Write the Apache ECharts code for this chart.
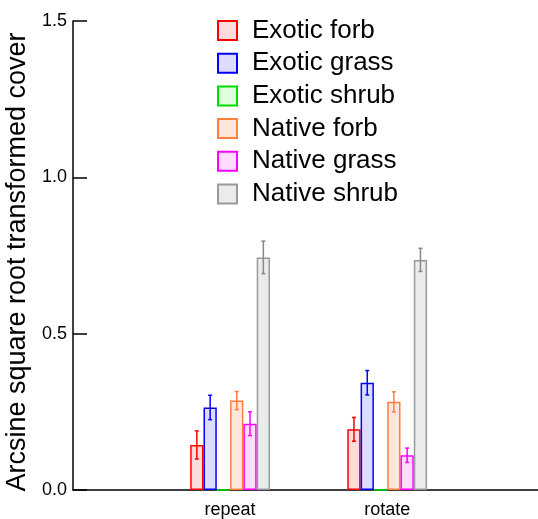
<!DOCTYPE html>
<html>
<head>
<meta charset="utf-8">
<script src="https://cdn.jsdelivr.net/npm/echarts@6/dist/echarts.min.js"></script>
<style>
  html, body { margin: 0; padding: 0; background: #fff; }
  #chart { width: 538px; height: 519px; }
</style>
</head>
<body>
<div id="chart"></div>
<script>
    // categories sit at x = 1 and x = 2 on the value axis
    var categories = ['repeat', 'rotate'];
    var groupNames = ['Exotic forb', 'Exotic grass', 'Exotic shrub', 'Native forb', 'Native grass', 'Native shrub'];
    var lineColors = ['#ff0000', '#0000ff', '#00dd00', '#ff8040', '#ff00ff', '#999999'];
    var fillColors = ['#ffdcdc', '#dcdcff', '#dcffdc', '#ffe6da', '#ffdcff', '#ebebeb'];

    var exoticForb = [0.144, 0.194];
    var exoticGrass = [0.264, 0.343];
    var exoticShrub = [0, 0];
    var nativeForb = [0.286, 0.282];
    var nativeGrass = [0.212, 0.111];
    var nativeShrub = [0.744, 0.736];

    var exoticForbSe = [0.045, 0.038];
    var exoticGrassSe = [0.039, 0.039];
    var exoticShrubSe = [0, 0];
    var nativeForbSe = [0.029, 0.032];
    var nativeGrassSe = [0.038, 0.023];
    var nativeShrubSe = [0.052, 0.037];

    var yTicks = [0, 0.5, 1.0, 1.5];

    var means = [exoticForb, exoticGrass, exoticShrub, nativeForb, nativeGrass, nativeShrub];
    var errs = [exoticForbSe, exoticGrassSe, exoticShrubSe, nativeForbSe, nativeGrassSe, nativeShrubSe];

    var barW = 13.3;
    var font = 'Liberation Sans, Arial, sans-serif';

    var seriesList = [];
    means.forEach(function (vals, i) {
        seriesList.push({
            name: groupNames[i],
            type: 'bar',
            barWidth: barW,
            barGap: '0%',
            itemStyle: { color: fillColors[i], borderColor: lineColors[i], borderWidth: 1.5 },
            data: vals.map(function (v, j) { return [j + 1, v]; })
        });
    });

    // error bars, one row per bar: [x, group index, mean, se]
    var errData = [];
    means.forEach(function (vals, i) {
        vals.forEach(function (v, j) {
            if (errs[i][j] > 0) errData.push([j + 1, i, v, errs[i][j]]);
        });
    });
    seriesList.push({
        type: 'custom',
        silent: true,
        z: 5,
        data: errData,
        renderItem: function (params, api) {
            var gi = api.value(1);
            var off = (gi - 2.5) * barW;
            var hi = api.coord([api.value(0), api.value(2) + api.value(3)]);
            var lo = api.coord([api.value(0), api.value(2) - api.value(3)]);
            var x = hi[0] + off;
            var st = { stroke: lineColors[gi] === '#999999' ? '#888888' : lineColors[gi], lineWidth: 1.5 };
            return {
                type: 'group',
                children: [
                    { type: 'line', shape: { x1: x, y1: hi[1], x2: x, y2: lo[1] }, style: st },
                    { type: 'line', shape: { x1: x - 2, y1: hi[1], x2: x + 2, y2: hi[1] }, style: st },
                    { type: 'line', shape: { x1: x - 2, y1: lo[1], x2: x + 2, y2: lo[1] }, style: st }
                ]
            };
        }
    });

    var myCharts = echarts.init(document.getElementById('chart'));
    myCharts.setOption({
        animation: false,
        backgroundColor: '#fff',
        grid: { left: 73, right: 0, top: 21, bottom: 29, containLabel: false, outerBoundsMode: 'none' },
        legend: {
            orient: 'vertical',
            left: 212,
            top: 12.5,
            data: groupNames,
            icon: 'rect',
            itemWidth: 19,
            itemHeight: 19,
            itemGap: 6.7,
            textStyle: { fontSize: 26, color: '#000', fontFamily: font, padding: [0, 0, 0, 10] }
        },
        xAxis: {
            type: 'value',
            min: 0,
            max: 2.96,
            interval: 1,
            splitLine: { show: false },
            axisTick: { show: false },
            axisLine: { lineStyle: { color: '#000', width: 1.5 } },
            axisLabel: {
                fontSize: 18, color: '#000', fontFamily: font, margin: 11,
                formatter: function (v) {
                    var k = Math.round(v);
                    if (Math.abs(v - k) > 1e-6) return '';
                    return categories[k - 1] || '';
                }
            }
        },
        yAxis: {
            type: 'value',
            min: yTicks[0],
            max: yTicks[yTicks.length - 1],
            interval: 0.5,
            name: 'Arcsine square root transformed cover',
            nameLocation: 'middle',
            nameGap: 40,
            nameTextStyle: { fontSize: 27, color: '#000', fontFamily: font, padding: [0, 13, 0, 0] },
            splitLine: { show: false },
            axisLine: { show: true, lineStyle: { color: '#000', width: 1.5 } },
            axisTick: { show: true, inside: true, length: 14, lineStyle: { color: '#000', width: 1.5 } },
            axisLabel: {
                fontSize: 18, color: '#000', fontFamily: font, margin: 6,
                formatter: function (v) { return v.toFixed(1); }
            }
        },
        series: seriesList
    });
    window.addEventListener('resize', function () {
        myCharts.resize();
    });
</script>
</body>
</html>
